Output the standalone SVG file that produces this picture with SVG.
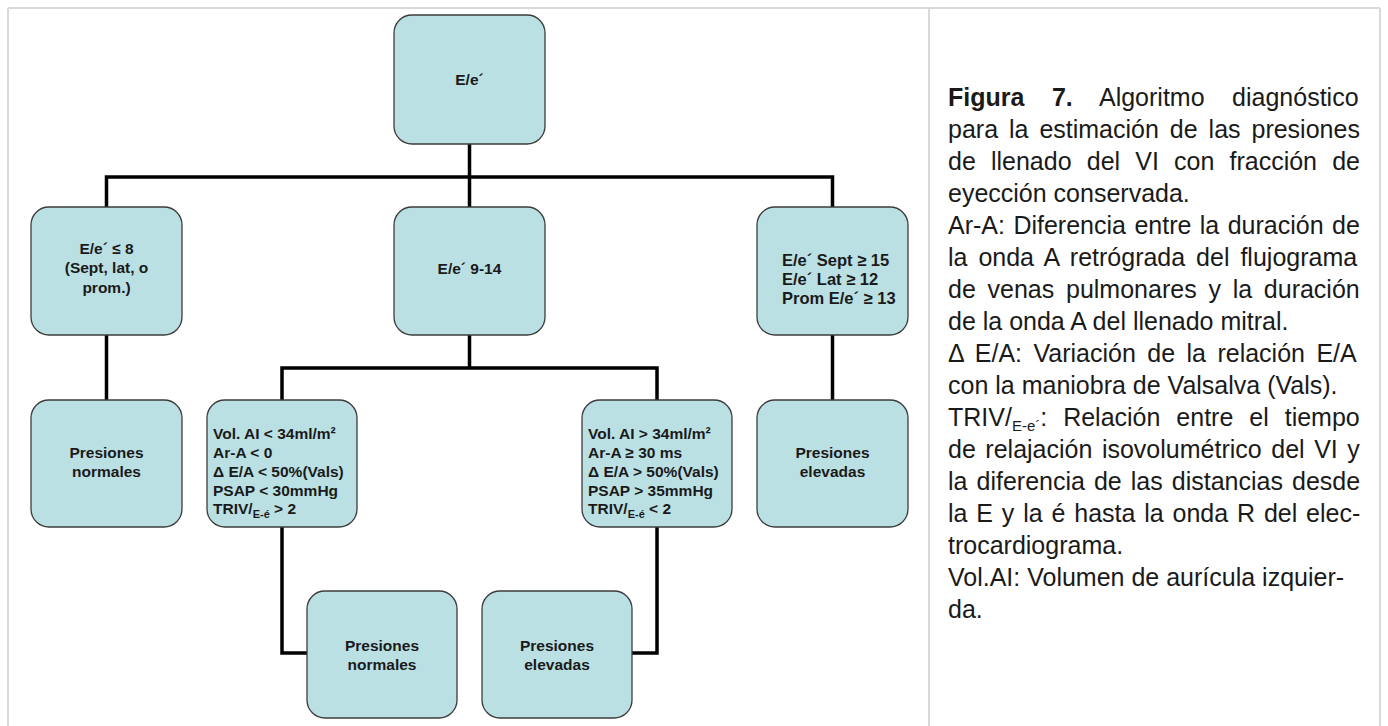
<svg xmlns="http://www.w3.org/2000/svg" width="1388" height="726" viewBox="0 0 1388 726">
<style>
.frame{stroke:#d9d9d9;stroke-width:2;fill:none}
.node{fill:#bae0e4;stroke:#3c3c3c;stroke-width:1.3}
.conn{stroke:#000;stroke-width:3.5;fill:none;stroke-linejoin:miter}
.nt{font-family:"Liberation Sans",Arial,sans-serif;font-weight:bold;font-size:15.5px;fill:#1a1a1a}
.c{text-anchor:middle}
.big{font-size:16.5px}
.cap{font-family:"Liberation Sans",Arial,sans-serif;font-size:25px;fill:#1a1a1a}
</style>
<rect width="1388" height="726" fill="#fff"/>
<g id="frame">
<line class="frame" x1="8" y1="8" x2="1380" y2="8"/>
<line class="frame" x1="8" y1="8" x2="8" y2="726"/>
<line class="frame" x1="929" y1="8" x2="929" y2="726"/>
<line class="frame" x1="1380" y1="8" x2="1380" y2="726"/>
</g>
<g id="connectors">
<path class="conn" d="M469.5 144 V207"/>
<path class="conn" d="M106.5 207 V177 H832.5 V207"/>
<path class="conn" d="M106.5 335 V400"/>
<path class="conn" d="M469.5 335 V368"/>
<path class="conn" d="M282 400 V368 H657 V400"/>
<path class="conn" d="M832.5 335 V400"/>
<path class="conn" d="M282 527 V653 H307"/>
<path class="conn" d="M657 527 V653 H632"/>
</g>
<g id="n-top">
<rect class="node" x="394" y="15" width="151" height="129" rx="18"/>
<text class="nt c" x="469.5" y="85">E/e´</text>
</g>
<g id="n-le8">
<rect class="node" x="31" y="207" width="151" height="128" rx="18"/>
<text class="nt c" x="106.5" y="253.5">E/e´ ≤ 8</text>
<text class="nt c" x="106.5" y="273">(Sept, lat, o</text>
<text class="nt c" x="106.5" y="292.5">prom.)</text>
</g>
<g id="n-mid">
<rect class="node" x="394" y="207" width="151" height="128" rx="18"/>
<text class="nt c" x="469.5" y="274">E/e´ 9-14</text>
</g>
<g id="n-high">
<rect class="node" x="757" y="207" width="151" height="128" rx="18"/>
<text class="nt big" x="782" y="266">E/e´ Sept ≥ 15</text>
<text class="nt big" x="782" y="285">E/e´ Lat ≥ 12</text>
<text class="nt big" x="782" y="303.5">Prom E/e´ ≥ 13</text>
</g>
<g id="n-normal1">
<rect class="node" x="31" y="400" width="151" height="127" rx="18"/>
<text class="nt c" x="106.5" y="458">Presiones</text>
<text class="nt c" x="106.5" y="477">normales</text>
</g>
<g id="n-vol-low">
<rect class="node" x="207" y="400" width="150" height="127" rx="18"/>
<text class="nt" x="213" y="439">Vol. AI &lt; 34ml/m²</text>
<text class="nt" x="213" y="458">Ar-A &lt; 0</text>
<text class="nt" x="213" y="477">Δ E/A &lt; 50%(Vals)</text>
<text class="nt" x="213" y="495.5">PSAP &lt; 30mmHg</text>
<text class="nt" x="213" y="514">TRIV/<tspan font-size="11" dy="4">E-é</tspan><tspan dy="-4"> &gt; 2</tspan></text>
</g>
<g id="n-vol-high">
<rect class="node" x="582" y="400" width="150" height="127" rx="18"/>
<text class="nt" x="588" y="439">Vol. AI &gt; 34ml/m²</text>
<text class="nt" x="588" y="458">Ar-A ≥ 30 ms</text>
<text class="nt" x="588" y="477">Δ E/A &gt; 50%(Vals)</text>
<text class="nt" x="588" y="495.5">PSAP &gt; 35mmHg</text>
<text class="nt" x="588" y="514">TRIV/<tspan font-size="11" dy="4">E-é</tspan><tspan dy="-4"> &lt; 2</tspan></text>
</g>
<g id="n-elev1">
<rect class="node" x="757" y="400" width="151" height="127" rx="18"/>
<text class="nt c" x="832.5" y="458">Presiones</text>
<text class="nt c" x="832.5" y="477">elevadas</text>
</g>
<g id="n-normal2">
<rect class="node" x="307" y="591" width="150" height="127" rx="18"/>
<text class="nt c" x="382" y="651">Presiones</text>
<text class="nt c" x="382" y="670">normales</text>
</g>
<g id="n-elev2">
<rect class="node" x="482" y="591" width="150" height="127" rx="18"/>
<text class="nt c" x="557" y="651">Presiones</text>
<text class="nt c" x="557" y="670">elevadas</text>
</g>
<g id="caption" class="cap">
<text x="948" y="106" word-spacing="20.6"><tspan font-weight="bold">Figura 7.</tspan> Algoritmo diagnóstico</text>
<text x="948" y="138" word-spacing="4">para la estimación de las presiones</text>
<text x="948" y="170" word-spacing="8.2">de llenado del VI con fracción de</text>
<text x="948" y="202">eyección conservada.</text>
<text x="948" y="234" word-spacing="1.5">Ar-A: Diferencia entre la duración de</text>
<text x="948" y="266" word-spacing="4">la onda A retrógrada del flujograma</text>
<text x="948" y="298" word-spacing="4.8">de venas pulmonares y la duración</text>
<text x="948" y="330">de la onda A del llenado mitral.</text>
<text x="948" y="362" word-spacing="4.5">Δ E/A: Variación de la relación E/A</text>
<text x="948" y="394">con la maniobra de Valsalva (Vals).</text>
<text x="948" y="426" word-spacing="9">TRIV/<tspan font-size="15" dy="5">E-e´</tspan><tspan dy="-5">: Relación entre el tiempo</tspan></text>
<text x="948" y="458" word-spacing="2.6">de relajación isovolumétrico del VI y</text>
<text x="948" y="490" word-spacing="2.1">la diferencia de las distancias desde</text>
<text x="948" y="522" word-spacing="1.9">la E y la é hasta la onda R del elec-</text>
<text x="948" y="554">trocardiograma.</text>
<text x="948" y="586">Vol.AI: Volumen de aurícula izquier-</text>
<text x="948" y="618">da.</text>
</g>
</svg>
